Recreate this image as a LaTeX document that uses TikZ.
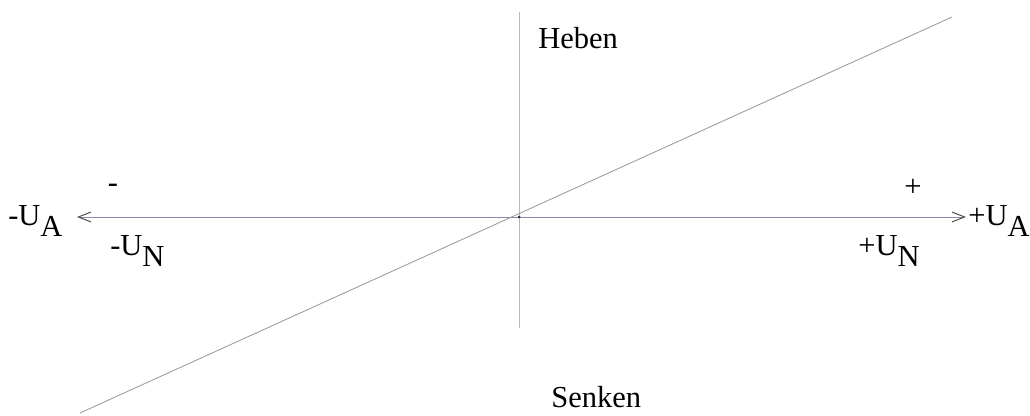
\documentclass[tikz,border=0pt]{standalone}
\usepackage{fontspec}
\setmainfont{Liberation Serif}
\usetikzlibrary{arrows.meta}
\definecolor{axisviolet}{HTML}{8C86B4}
\definecolor{linegray}{HTML}{9A9A9A}
\newcommand{\lowsub}[1]{\raisebox{-0.38em}{#1}}
\begin{document}
\begin{tikzpicture}[x=0.025cm, y=-0.025cm,
  lbl/.style={font=\fontsize{21.7}{26}\selectfont, inner sep=0pt, anchor=base west},
  sgn/.style={font=\fontsize{21.7}{26}\selectfont, inner sep=0pt},
  haxis/.style={line width=0.7pt, axisviolet, {Straight Barb[length=9pt, width=7pt, black!70]}-{Straight Barb[length=9pt, width=7pt, black!70]}},
  vaxis/.style={line width=0.5pt, linegray!70},
  ramp/.style={line width=0.6pt, linegray}
]
  \useasboundingbox (0,0) rectangle (1030,415);
  % axes
  \coordinate (left) at (77,217);
  \coordinate (right) at (966,217);
  \coordinate (top) at (519,12);
  \coordinate (bottom) at (519,328);
  \coordinate (lo) at (80,413);
  \coordinate (hi) at (952,17);
  \draw[vaxis] (top) -- (bottom);
  \draw[haxis] (left) -- (right);
  \draw[ramp] (lo) -- (hi);
  \fill[black!80] (519,217) circle (1.5);
  % labels
  \node[lbl] (heben) at (538,48) {Heben};
  \node[lbl] (senken) at (551,407) {Senken};
  \node[sgn] (minus) at (113,188) {-};
  \node[sgn] (plus) at (913,188) {+};
  \node[lbl] (ual) at (8,225) {-U\lowsub{A}};
  \node[lbl] (unl) at (110,255) {-U\lowsub{N}};
  \node[lbl] (unr) at (858,255) {+U\lowsub{N}};
  \node[lbl] (uar) at (968,225) {+U\lowsub{A}};
\end{tikzpicture}
\end{document}
